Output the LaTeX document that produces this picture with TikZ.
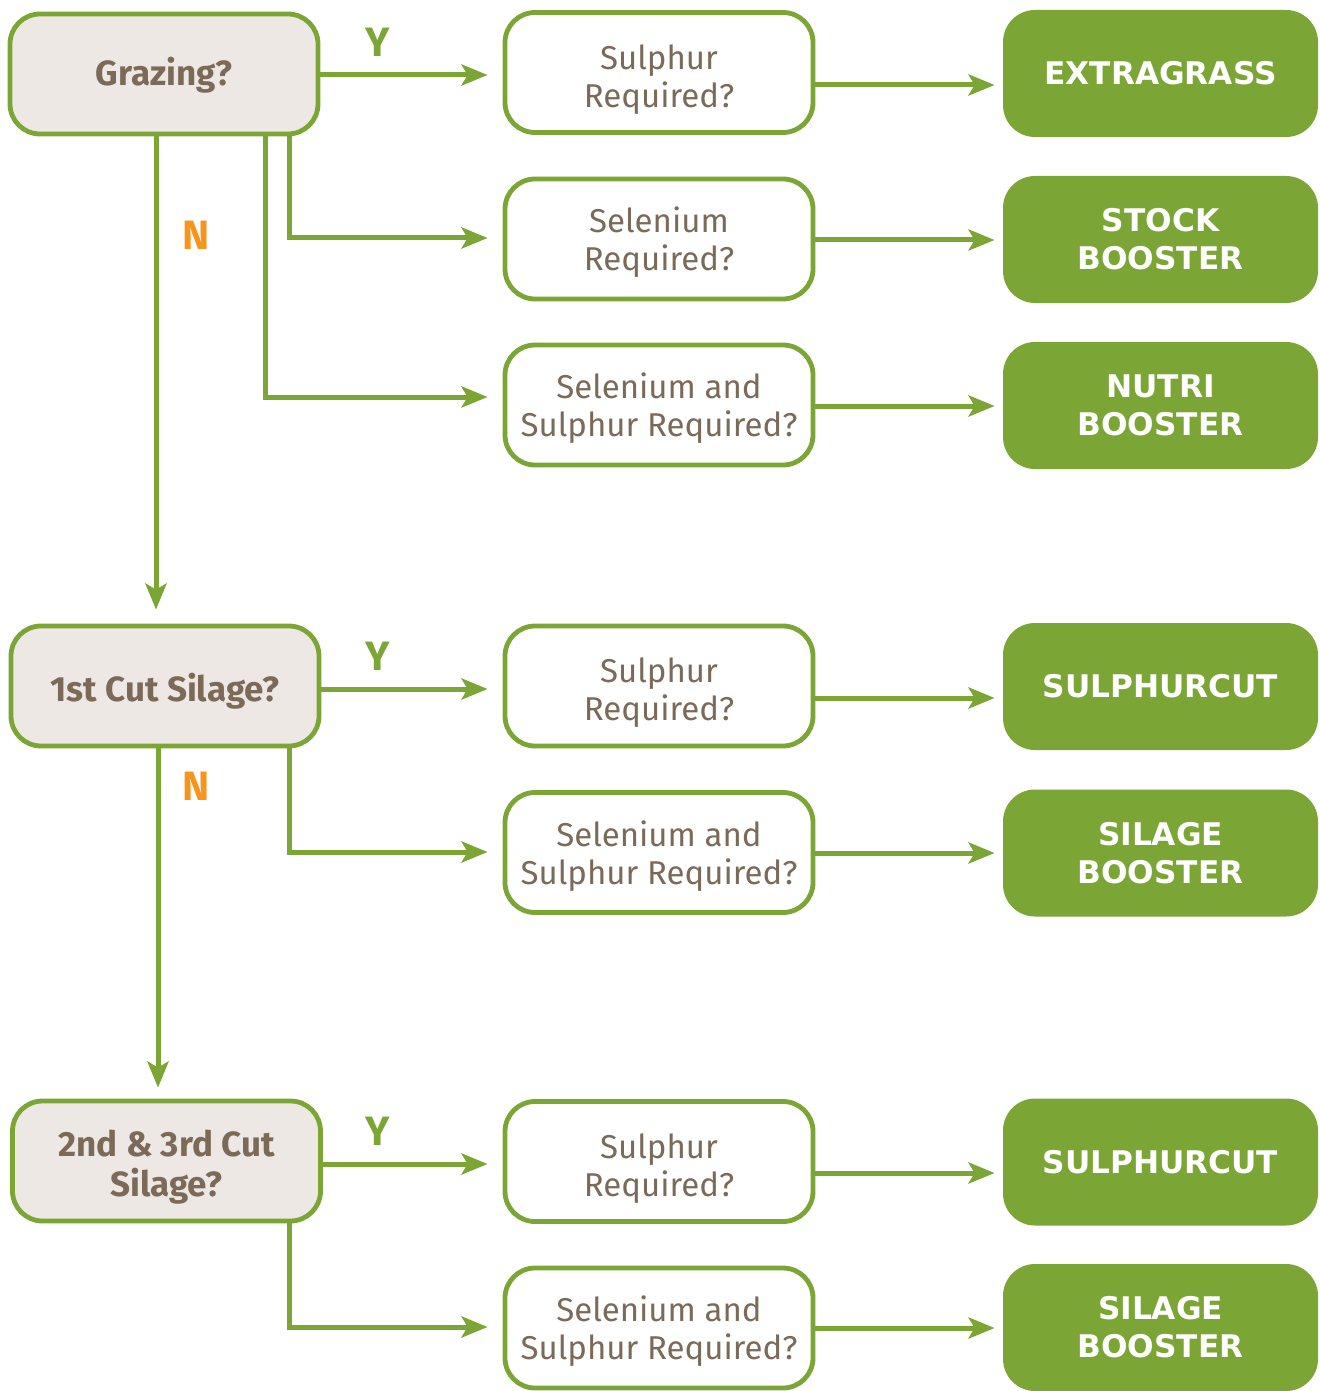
\documentclass[tikz,border=0pt]{standalone}
\usepackage{fontspec}
\setmainfont{Fira Sans}
\newfontfamily\prodfont{DejaVu Sans}
\usetikzlibrary{arrows.meta,calc}
\definecolor{grn}{HTML}{7BA535}
\definecolor{brn}{HTML}{7B6A58}
\definecolor{beige}{HTML}{EDE8E4}
\definecolor{org}{HTML}{F7941D}
\newcommand{\twol}[3]{\raisebox{#1}[\height][\depth]{\begin{tabular}{@{}c@{}}#2\\#3\end{tabular}}}
\newcommand{\onel}[2]{\raisebox{#1}[\height][\depth]{#2}}
\begin{document}
\begin{tikzpicture}[x=0.5pt,y=-0.5pt,
  dec/.style={draw=grn, line width=2.4pt, fill=beige, rounded corners=15pt,
    minimum width=154pt, minimum height=60pt, text=brn, align=center, inner sep=0pt,
    font=\fontsize{17.5}{19}\selectfont\bfseries},
  ques/.style={draw=grn, line width=2.4pt, fill=white, rounded corners=15pt,
    minimum width=154pt, minimum height=60pt, text=brn, align=center, inner sep=0pt,
    font=\fontsize{16.5}{19}\selectfont},
  prod/.style={fill=grn, rounded corners=16pt,
    minimum width=157.5pt, minimum height=63.5pt, text=white, align=center, inner sep=0pt,
    font=\prodfont\fontsize{15.6}{19}\selectfont\bfseries},
  arr/.style={draw=grn, line width=2.5pt, -{Stealth[length=13pt,width=10.5pt,inset=3pt]}},
  ylab/.style={text=grn, font=\fontsize{20.5}{20}\selectfont\bfseries},
  nlab/.style={text=org, font=\fontsize{20.5}{20}\selectfont\bfseries}]
\useasboundingbox (0,0) rectangle (1320,1391);

% decision boxes
\node[dec] (g1) at (164,74) {\onel{-0.5pt}{Grazing?}};
\node[dec] (g2) at (165,686) {\onel{-2.5pt}{1st Cut Silage?}};
\node[dec] (g3) at (166.5,1161) {\twol{-4pt}{2nd \& 3rd Cut}{Silage?}};

% question boxes
\node[ques] (q1) at (659,72.5) {\twol{-4pt}{Sulphur}{Required?}};
\node[ques] (q2) at (659,239) {\twol{-2.5pt}{Selenium}{Required?}};
\node[ques] (q3) at (659,405) {\twol{-2.5pt}{Selenium and}{Sulphur Required?}};
\node[ques] (q4) at (659,686) {\twol{-4pt}{Sulphur}{Required?}};
\node[ques] (q5) at (659,852.5) {\twol{-2.5pt}{Selenium and}{Sulphur Required?}};
\node[ques] (q6) at (659,1161.5) {\twol{-4pt}{Sulphur}{Required?}};
\node[ques] (q7) at (659,1328) {\twol{-2.5pt}{Selenium and}{Sulphur Required?}};

% products
\node[prod] (e1) at (1160.5,73.5) {EXTRAGRASS};
\node[prod] (e2) at (1160.5,239.5) {STOCK\\BOOSTER};
\node[prod] (e3) at (1160.5,405.5) {NUTRI\\BOOSTER};
\node[prod] (e4) at (1160.5,686.5) {SULPHURCUT};
\node[prod] (e5) at (1160.5,853) {SILAGE\\BOOSTER};
\node[prod] (e6) at (1160.5,1162) {SULPHURCUT};
\node[prod] (e7) at (1160.5,1327.5) {SILAGE\\BOOSTER};

% labels
\node[ylab] (y1) at (378,42) {Y};
\node[ylab] (y2) at (378,656) {Y};
\node[ylab] (y3) at (378,1131) {Y};
\node[nlab] (n1) at (196,235) {N};
\node[nlab] (n2) at (196,786) {N};

% start points
\coordinate (s1) at ($(g1.east)+(0,1)$);
\coordinate (s2) at ($(g1.south)+(125,0)$);
\coordinate (s3) at ($(g1.south)+(101,0)$);
\coordinate (s4) at ($(g1.south)+(-8,0)$);
\coordinate (s5) at ($(g2.east)+(0,3)$);
\coordinate (s6) at ($(g2.south)+(124,0)$);
\coordinate (s7) at ($(g2.south)+(-7,0)$);
\coordinate (s8) at ($(g3.east)+(0,3)$);
\coordinate (s9) at ($(g3.south)+(122.5,0)$);
\coordinate (t2) at ($(q2.west)+(0,-1)$);
\coordinate (t3) at ($(q3.west)+(0,-8)$);
\coordinate (t6) at ($(q5.west)+(0,-0.5)$);
\coordinate (t9) at ($(q7.west)+(0,-1)$);

% decision connectors
\draw[arr, shorten >=7.5pt] (s1) -- (s1 -| q1.west);
\draw[arr, shorten >=7.5pt] (s2) |- (t2);
\draw[arr, shorten >=7.5pt] (s3) |- (t3);
\draw[arr, shorten >=7pt] (s4) -- (s4 |- g2.north);
\draw[arr, shorten >=7.5pt] (s5) -- (s5 -| q4.west);
\draw[arr, shorten >=7.5pt] (s6) |- (t6);
\draw[arr, shorten >=5.5pt] (s7) -- (s7 |- g3.north);
\draw[arr, shorten >=7.5pt] (s8) -- (s8 -| q6.west);
\draw[arr, shorten >=7.5pt] (s9) |- (t9);

% question -> product
\coordinate (u1) at ($(q1.east)+(0,12.5)$);
\coordinate (u2) at ($(q2.east)+(0,1)$);
\coordinate (u3) at ($(q3.east)+(0,1)$);
\coordinate (u4) at ($(q4.east)+(0,12)$);
\coordinate (u5) at ($(q5.east)+(0,0.5)$);
\coordinate (u6) at ($(q6.east)+(0,11.5)$);
\coordinate (u7) at (q7.east);
\draw[arr, shorten >=4pt] (u1) -- (u1 -| e1.west);
\draw[arr, shorten >=4pt] (u2) -- (u2 -| e2.west);
\draw[arr, shorten >=4pt] (u3) -- (u3 -| e3.west);
\draw[arr, shorten >=4pt] (u4) -- (u4 -| e4.west);
\draw[arr, shorten >=4pt] (u5) -- (u5 -| e5.west);
\draw[arr, shorten >=4pt] (u6) -- (u6 -| e6.west);
\draw[arr, shorten >=4pt] (u7) -- (u7 -| e7.west);
\end{tikzpicture}
\end{document}
